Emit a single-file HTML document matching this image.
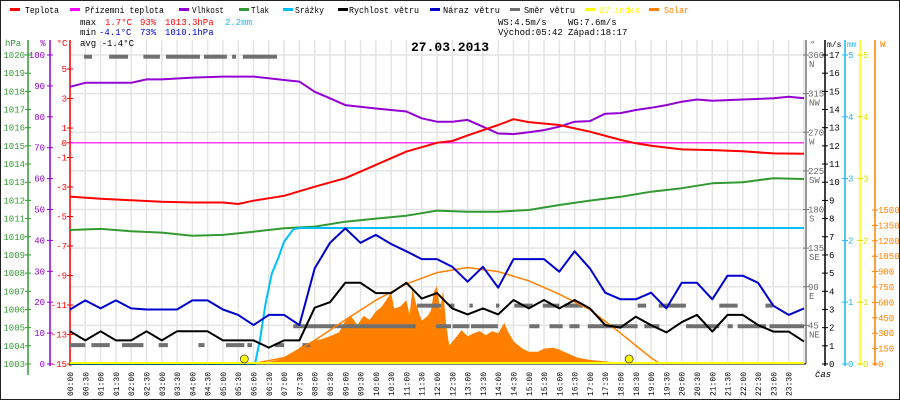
<!DOCTYPE html>
<html><head><meta charset="utf-8"><style>
html,body{margin:0;padding:0;background:#fff}
svg{display:block}
text{font-family:"Liberation Mono",monospace;font-size:9px}
</style></head><body>
<svg id="chart" width="900" height="400" viewBox="0 0 900 400" xmlns="http://www.w3.org/2000/svg">
<rect x="0.5" y="0.5" width="899" height="399" fill="#fff" stroke="#222"/>
<g id="grid"></g>
<g id="legend"></g>
<g>
<text x="80" y="25" fill="#000">max</text><text x="105" y="25" fill="#f00">1.7°C</text><text x="140" y="25" fill="#f00">93%</text><text x="165" y="25" fill="#f00">1013.3hPa</text><text x="225" y="25" fill="#1eb4f0">2.2mm</text>
<text x="80" y="35" fill="#000">min</text><text x="99" y="35" fill="#00c">-4.1°C</text><text x="140" y="35" fill="#00c">73%</text><text x="165" y="35" fill="#00c">1010.1hPa</text>
<text x="80" y="46" fill="#000">avg -1.4°C</text>
<text x="498" y="25" fill="#000">WS:4.5m/s</text><text x="568" y="25" fill="#000">WG:7.6m/s</text>
<text x="498" y="35" fill="#000">Východ:05:42</text><text x="568" y="35" fill="#000">Západ:18:17</text>
</g>
<text x="450" y="51" text-anchor="middle" style="font-size:13px;font-weight:bold">27.03.2013</text>
<g id="axes"></g>
<g id="series"></g>
</svg>
<script>
const tempTimes=[0,1,2,3,4,5,5.5,6,7,8,9,10,11,12,12.5,13,14,14.5,15,16,17,18,18.5,19,20,21,22,23,24];
const tempVals=[-3.65,-3.8,-3.9,-4.0,-4.05,-4.05,-4.15,-3.93,-3.6,-2.98,-2.4,-1.5,-0.6,0.0,0.12,0.5,1.2,1.6,1.4,1.2,0.75,0.19,-0.04,-0.2,-0.45,-0.5,-0.58,-0.72,-0.75];
const feelTimes=[0,24];
const feelVals=[0,0];
const humTimes=[0,0.5,1,2,2.5,3,4,5,6,7,7.5,8,8.5,9,10,11,11.5,12,12.5,13,13.5,14,14.5,15,15.5,16,16.5,17,17.5,18,18.5,19,19.5,20,20.5,21,22,23,23.5,24];
const humVals=[89.7,91,91,91,92.1,92.1,92.7,93,93,91.9,91.4,88.1,86,83.8,82.7,81.7,79.5,78.4,78.4,79,76.8,74.6,74.4,75,75.7,76.8,78.4,78.6,81,81.2,82.2,82.9,83.8,84.9,85.6,85.2,85.6,86,86.5,86];
const presTimes=[0,1,2,3,4,5,6,7,8,9,10,11,12,13,14,15,16,17,18,19,20,21,22,23,24];
const presVals=[1010.37,1010.43,1010.3,1010.23,1010.06,1010.1,1010.28,1010.47,1010.56,1010.83,1011.0,1011.16,1011.44,1011.38,1011.38,1011.47,1011.75,1011.99,1012.2,1012.48,1012.67,1012.94,1013.0,1013.22,1013.18];
const rainTimes=[0,6.05,6.2,6.4,6.6,6.8,7.0,7.3,7.5,24];
const rainVals=[0,0,0.36,0.99,1.47,1.7,1.98,2.18,2.2,2.2];
const windTimes=[0,0.5,1,1.5,2,2.5,3,3.5,4,4.5,5,5.5,6,6.5,7,7.5,8,8.5,9,9.5,10,10.5,11,11.5,12,12.5,13,13.5,14,14.5,15,15.5,16,16.5,17,17.5,18,18.5,19,19.5,20,20.5,21,21.5,22,22.5,23,23.5,24];
const speedVals=[1.8,1.3,1.8,1.3,1.3,1.8,1.3,1.8,1.8,1.8,1.3,1.3,1.3,0.9,1.3,1.3,3.1,3.4,4.47,4.47,3.9,3.9,4.47,3.6,3.9,3.06,2.73,3.06,2.73,3.52,3.06,3.52,3.06,3.52,3.06,2.14,2.0,2.6,2.14,1.74,2.3,2.7,1.78,2.7,2.7,2.14,1.78,1.78,1.23];
const gustVals=[3.0,3.5,3.06,3.5,3.06,3.0,3.0,3.0,3.5,3.5,3.0,2.7,2.14,2.7,2.7,2.14,5.26,6.67,7.46,6.67,7.1,6.6,6.2,5.77,5.77,5.35,4.53,5.35,4.2,5.77,5.77,5.77,5.08,6.2,5.26,3.92,3.56,3.56,3.92,3.06,4.47,4.47,3.56,4.86,4.86,4.47,3.2,2.7,3.06];
const dirFrom=[0.46,1.28,2.4,3.14,4.38,5.3,5.65, 0,0.7,1.7,2.9,4.2,5.1,5.8,6.7,7.6, 7.3,11.97,12.51,13.11,15.02,15.68,16.33,16.93,18.78,20.14,21.5,21.83,22.87, 11.35,12.4,13.06,13.93,14.53,15.46,16.17,18.56,19.25,21.23,22.74];
const dirTo=[0.72,1.9,2.94,4.25,5.13,5.43,6.77, 0.5,1.3,2.4,3.2,4.4,5.7,5.95,7.0,7.85, 11.3,12.46,13.06,13.99,15.35,16.11,16.66,18.56,19.27,21.23,21.67,22.76,24, 12.13,12.57,13.17,14.04,15.13,16.0,16.77,18.84,20.14,21.83,22.98];
const dirVals=[358,358,358,358,358,358,358, 22,22,22,22,22,22,22,22,22, 44,44,44,44,44,44,44,44,44,44,44,44,44, 68,68,68,68,68,68,68,68,68,68,68];
const solarTheoryTimes=[5.9,7,8,9,10,11,12,13,14,15,16,17,18,19,19.3];
const solarTheoryVals=[0,60,230,430,620,780,890,940,900,810,680,530,300,60,0];
const solarTimes=[5.9,6.2,6.5,6.8,7.0,7.3,7.6,7.9,8.2,8.5,8.8,9.0,9.2,9.4,9.6,9.8,10.0,10.2,10.4,10.5,10.6,10.8,11.0,11.1,11.2,11.3,11.5,11.7,11.8,11.9,12.0,12.1,12.2,12.3,12.4,12.6,12.8,13.0,13.2,13.4,13.6,13.8,14.0,14.2,14.3,14.5,14.8,15.0,15.3,15.5,15.8,16.0,16.3,16.6,17.0,17.5,17.9,18.1];
const solarVals=[0,10,20,40,60,110,180,220,240,270,310,420,460,380,470,430,510,560,650,700,540,560,620,480,730,600,420,470,520,700,760,520,720,380,180,250,330,270,300,320,280,320,300,400,330,220,150,120,120,150,160,140,100,60,40,25,15,0];
const uvTimes=[0,24];
const uvVals=[0,0];
const sunTimes=[5.7,18.283];
const hpaTicks=[1003,1004,1005,1006,1007,1008,1009,1010,1011,1012,1013,1014,1015,1016,1017,1018,1019,1020];
const humTicks=[0,10,20,30,40,50,60,70,80,90,100];
const tempTicks=[5,3,1,0,-1,-3,-5,-7,-9,-11,-13,-15];
const dirTicks=[45,90,135,180,225,270,315,360];
const dirNames=["NE","E","SE","S","SW","W","NW","N"];
const msTicks=[0,1,2,3,4,5,6,7,8,9,10,11,12,13,14,15,16,17];
const mmTicks=[0,1,2,3,4,5];
const wTicks=[0,150,300,450,600,750,900,1050,1200,1350,1500];

const NS="http://www.w3.org/2000/svg";
const X0=70,X1=804,YT=40,YB=364,YTOP=55;
const xS=t=>X0+t*(X1-X0)/24;
const yTemp=v=>142.75-v*14.75;
const yHum=v=>YB-v*(YB-YTOP)/100;
const yPres=v=>YB-(v-1003)*(YB-YTOP)/17;
const yRain=v=>YB-v*(YB-YTOP)/5;
const yWind=v=>YB-v*(YB-YTOP)/17;
const yDir=v=>YB-v*(YB-YTOP)/360;
const ySol=v=>YB-v*154/1500;
function el(tag,attrs,parent){const e=document.createElementNS(NS,tag);for(const k in attrs)e.setAttribute(k,attrs[k]);parent.appendChild(e);return e;}
const grid=document.getElementById('grid'),axes=document.getElementById('axes'),ser=document.getElementById('series'),leg=document.getElementById('legend');

// grid
for(let i=0;i<=48;i++){const x=xS(i/2);
 const l=el('line',{x1:x,x2:x,y1:YT,y2:YB,stroke:'#e4e4e4','stroke-width':1.5},grid);
 
 }
dirTicks.forEach(d=>{const y=yDir(d);
 const l=el('line',{x1:X0,x2:806,y1:y,y2:y,stroke:'#e4e4e4','stroke-width':1.5},grid);
 
 });

// legend
const legItems=[["#f00","Teplota",10,25,34],["#f0f","Přízemní teplota",70,85,79],["#9400d3","Vlhkost",179,192,32],["#339933","Tlak",239,251,18],["#00bfff","Srážky",283,295,29],["#000","Rychlost větru",338,349,70],["#0000cc","Náraz větru",430,443,57],["#707070","Směr větru",510,524,51],["#ffff00","UV index",585,599,41],["#ff8000","Solar",649,664,25]];
legItems.forEach(it=>{
 const r=el('rect',{x:it[2],y:8,width:10,height:3,fill:it[0]},leg);
 
 
 const t=el('text',{x:it[3],y:13,fill:(it[0]=="#ffff00"||it[0]=="#ff8000")?it[0]:'#000',textLength:it[4],lengthAdjust:'spacingAndGlyphs'},leg);
 t.textContent=it[1];
 
 
});

// axes
function vline(x,c,y1,y2,n){const l=el('line',{x1:x,x2:x,y1:y1,y2:y2,stroke:c,'stroke-width':1.5},axes);}
function label(x,y,s,c,anchor,n,sz){const t=el('text',{x:x,y:y,fill:c,'text-anchor':anchor||'start'},axes);if(sz)t.style.fontSize=sz;t.textContent=s;return t;}
function tick(x1,x2,y,c){const l=el('line',{x1:x1,x2:x2,y1:y,y2:y,stroke:c,'stroke-width':1},axes);}
vline(28,'#339933',YT,375,'pressure-axis');
vline(50,'#9400d3',YT,YB+2,'humidity-axis');
vline(70,'#f00',YT,YB+2,'temperature-axis');
label(5,46,'hPa','#339933','start','pressure-axis-title');
label(43,46,'%','#9400d3','middle','humidity-axis-title');
label(62,46,'°C','#f00','middle','temperature-axis-title');
hpaTicks.forEach(v=>{const y=yPres(v);tick(25,31,y,'#339933');label(25,y+3,String(v),'#339933','end','pressure-tick-label');});
humTicks.forEach(v=>{const y=yHum(v);tick(47,53,y,'#9400d3');label(45,y+3,String(v),'#9400d3','end','humidity-tick-label');});
tempTicks.forEach(v=>{const y=yTemp(v);tick(67,73,y,'#f00');label(67,y+3,String(v),'#f00','end','temperature-tick-label');});
vline(806,'#777',YT,YB,'direction-axis');
vline(825,'#000',YT,YB+2,'wind-speed-axis');
vline(845,'#1eb4f0',YT,YB+2,'rain-axis');
vline(860,'#ffff00',YT,YB+2,'uv-axis');
vline(875,'#ff8000',YT,YB+2,'solar-axis');
label(810,47,'°','#555','start','direction-axis-title');
label(827,47,'m/s','#000','start','wind-speed-axis-title',"8px");
label(847,47,'mm','#1eb4f0','start','rain-axis-title',"8px");
label(880,47,'W','#ff8000','start','solar-axis-title');
dirTicks.forEach((v,i)=>{const y=yDir(v);tick(803,809,y,'#777');label(808,y+3,String(v),'#666','start','direction-tick-label');label(809,y+12,dirNames[i],'#666','start','direction-name-label');});
msTicks.forEach(v=>{const y=yWind(v);tick(822,828,y,'#000');label(829,y+3,String(v),'#000','start','wind-speed-tick-label');});
mmTicks.forEach(v=>{const y=yRain(v);tick(842,848,y,'#1eb4f0');label(848,y+3,String(v),'#1eb4f0','start','rain-tick-label');});
mmTicks.forEach(v=>{const y=yRain(v);tick(857,863,y,'#dddd00');label(863,y+3,String(v),'#dddd00','start','uv-tick-label');});
wTicks.forEach(v=>{const y=ySol(v);tick(872,878,y,'#ff8000');label(878,y+3,String(v),'#ff8000','start','solar-tick-label');});
for(let i=0;i<48;i++){const t=i/2,x=xS(t);const hh=String(Math.floor(t)).padStart(2,'0'),mm=(i%2)?'30':'00';
 tick(x,x,YB,'#000');
 const tx=el('text',{x:0,y:0,transform:`translate(${x+3},396) rotate(-90)`,fill:'#000'},axes);
 tx.style.fontSize="8px";
 tx.textContent=hh+':'+mm;
 
 }
label(815,377,'čas','#000','start','time-axis-title').style.fontStyle='italic';

// series
function path(times,vals,yf,color,w,name){let d='';times.forEach((t,i)=>{d+=(i?'L':'M')+xS(t).toFixed(1)+','+yf(vals[i]).toFixed(1);});
 const p=el('path',{d:d,fill:'none',stroke:color,'stroke-width':w,'stroke-linejoin':'round'},ser);
 
 return p;}
// solar fill
{let d='M'+xS(solarTimes[0]).toFixed(1)+','+YB;solarTimes.forEach((t,i)=>{d+='L'+xS(t).toFixed(1)+','+ySol(solarVals[i]).toFixed(1);});d+='L'+xS(solarTimes[solarTimes.length-1]).toFixed(1)+','+YB+'Z';
 const p=el('path',{d:d,fill:'#ff8000',stroke:'none'},ser);
 
 }
dirVals.forEach((v,i)=>{const r=el('rect',{x:xS(dirFrom[i]),y:yDir(v)-2,width:Math.max(3,xS(dirTo[i])-xS(dirFrom[i])),height:4,fill:'#707070'},ser);
 
 });
path(solarTheoryTimes,solarTheoryVals,ySol,'#ff8000',1.5,'solar-theoretical-line');
path(feelTimes,feelVals,yTemp,'#f0f',1.2,'apparent-temperature-line');
path(presTimes,presVals,yPres,'#339933',2,'pressure-line');
path(humTimes,humVals,yHum,'#9400d3',2,'humidity-line');
path(tempTimes,tempVals,yTemp,'#f00',2,'temperature-line');
path(rainTimes,rainVals,yRain,'#00bfff',2,'rain-line');
path(windTimes,gustVals,yWind,'#0000cc',2,'wind-gust-line');
path(windTimes,speedVals,yWind,'#000',2,'wind-speed-line');
{const l=el('line',{x1:X0,x2:806,y1:YB,y2:YB,stroke:'#000','stroke-width':1},ser);}
path(uvTimes,uvVals,v=>YB-1-v*10,'#ffff00',2,'uv-index-line');
sunTimes.forEach((t,i)=>{const c=el('circle',{cx:xS(t),cy:YB-5,r:4,fill:'#ffff00',stroke:'#444','stroke-width':0.8},ser);
 
 });
</script>
</body></html>
